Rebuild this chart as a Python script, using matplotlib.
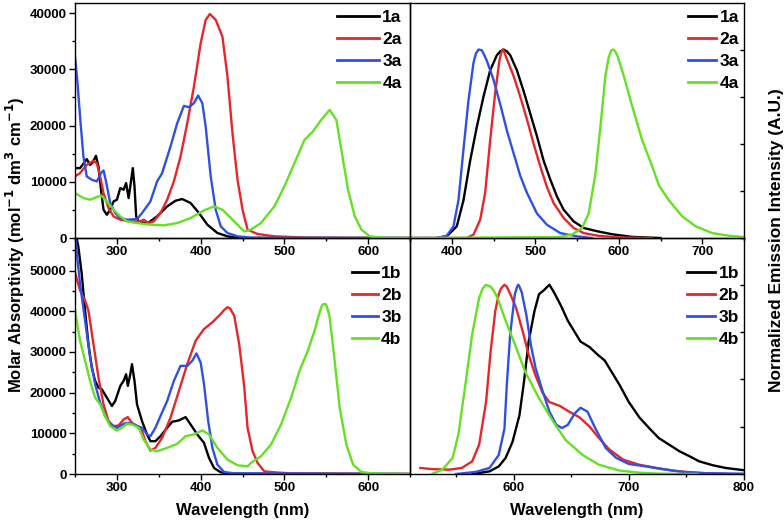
import numpy as np
import matplotlib
matplotlib.use('Agg')
import matplotlib.pyplot as plt
from matplotlib.ticker import MultipleLocator, FuncFormatter

plt.rcParams['font.family'] = ['Liberation Sans', 'DejaVu Sans']
plt.rcParams['font.weight'] = 'bold'
plt.rcParams['mathtext.default'] = 'bf'

##################################################################
# absorption, series "a"
wl_1a = [250, 256, 264, 268, 271, 275, 278, 281, 284, 288, 292, 296, 300, 304, 308, 311, 314, 316, 319,
         321, 323, 326, 336, 348, 360, 370, 378, 388, 398, 408, 420, 432, 444, 460, 650]
abs_1a = [12430, 12430, 14030, 13000, 13440, 14620, 12700, 8580, 5030, 4140, 5030, 6510, 6800, 8880, 8580,
          9770, 7100, 9180, 12430, 9180, 3850, 2960, 2550, 3850, 5620, 6630, 6930, 6220, 4440, 2370, 890,
          300, 60, 0, 0]

wl_2a = [250, 256, 264, 272, 276, 280, 284, 290, 296, 304, 316, 328, 332, 338, 344, 352, 360, 368, 376,
         384, 392, 400, 406, 411, 418, 426, 432, 438, 444, 450, 456, 468, 488, 528, 650]
abs_2a = [10950, 11540, 13020, 13730, 13320, 10950, 7990, 5330, 3850, 3260, 2960, 2960, 3260, 2660, 2960,
          4440, 6810, 10060, 14500, 20420, 26940, 34630, 38780, 39840, 38780, 35820, 28710, 18650, 10360,
          5030, 1480, 710, 300, 60, 0]

wl_3a = [250, 253, 256, 260, 264, 270, 276, 281, 284, 287, 292, 298, 304, 312, 324, 330, 340, 348, 354,
         364, 372, 380, 386, 392, 397, 402, 406, 412, 418, 424, 432, 444, 460, 650]
abs_3a = [32260, 27530, 21610, 14500, 10950, 10360, 10060, 11540, 12020, 10060, 6220, 4440, 3550, 3260,
          3370, 4440, 6510, 10060, 11540, 16280, 20420, 23500, 23270, 23980, 25340, 23980, 19830, 10950,
          5030, 2070, 890, 300, 60, 0]

wl_4a = [250, 260, 268, 276, 281, 288, 296, 304, 312, 324, 340, 356, 372, 388, 404, 416, 426, 436, 446,
         452, 460, 472, 488, 500, 512, 524, 534, 544, 554, 562, 568, 576, 584, 592, 602, 616, 650]
abs_4a = [7990, 7100, 6810, 7280, 7580, 6510, 5030, 3850, 2960, 2660, 2370, 2250, 2660, 3550, 4910, 5620,
          5030, 3550, 2070, 1150, 1480, 2660, 5620, 9180, 13320, 17460, 18940, 21020, 22790, 21020, 15690,
          8580, 3850, 1480, 300, 60, 0]

# absorption, series "b"
wl_1b = [250, 254, 258, 262, 266, 270, 274, 278, 282, 288, 294, 298, 304, 308, 311, 313, 316, 318, 321,
         324, 330, 336, 340, 346, 352, 360, 366, 374, 382, 388, 396, 404, 410, 416, 424, 436, 650]
abs_1b = [60000, 55800, 49200, 40160, 31930, 26170, 22880, 21230, 20820, 18760, 16710, 17940, 21640,
          22880, 24520, 21640, 24520, 26990, 22880, 17120, 13000, 9710, 8070, 8070, 9300, 11360, 12840,
          13170, 13990, 12180, 9710, 7650, 3950, 1480, 410, 80, 0]

wl_2b = [250, 256, 262, 266, 272, 278, 284, 290, 296, 302, 308, 313, 318, 324, 330, 334, 340, 346, 354,
         364, 374, 384, 394, 404, 414, 424, 428, 432, 435, 440, 446, 452, 456, 462, 468, 476, 488, 508, 650]
abs_2b = [49500, 45100, 42630, 40160, 31930, 23700, 17120, 13000, 11770, 11930, 13410, 13990, 12590,
          11770, 10530, 8070, 5760, 6420, 8890, 13830, 20410, 27000, 32750, 35640, 37280, 39340, 40300,
          40990, 40700, 38930, 31930, 21500, 11360, 5600, 2720, 660, 410, 160, 0]

wl_3b = [250, 253, 256, 262, 268, 274, 280, 286, 292, 300, 308, 314, 322, 330, 336, 340, 346, 352, 360,
         368, 376, 384, 390, 395, 400, 404, 409, 414, 420, 428, 440, 650]
abs_3b = [60000, 52500, 46750, 37690, 28640, 22060, 17530, 14240, 12180, 11360, 12340, 12590, 12020,
          11360, 9710, 9300, 11360, 14240, 17940, 22880, 26580, 26580, 27820, 29630, 27410, 22060, 13000,
          6420, 2300, 490, 160, 0]

wl_4b = [250, 256, 262, 268, 274, 280, 286, 292, 300, 306, 312, 318, 326, 332, 340, 348, 360, 372, 382,
         392, 402, 410, 420, 432, 444, 456, 460, 472, 484, 496, 508, 518, 528, 536, 541, 544, 546, 549,
         551, 554, 560, 566, 574, 582, 592, 604, 650]
abs_4b = [40160, 32750, 27820, 22880, 18760, 17120, 14240, 11770, 10700, 11360, 12340, 12180, 11360,
          8480, 6010, 5600, 6420, 7410, 9300, 9710, 10700, 9710, 6420, 3540, 2140, 1890, 2720, 4360, 7240,
          12180, 18760, 25350, 30290, 35220, 39000, 41000, 41700, 41810, 41000, 38520, 27820, 16300, 7240,
          2300, 490, 160, 0]

# emission, series "a" (normalized)
em_wl_1a = [350, 382, 394, 406, 414, 422, 430, 438, 446, 454, 458, 462, 466, 470, 478, 486, 494, 502, 510,
            518, 526, 534, 546, 558, 575, 592, 616, 650]
em_1a = [0, 0, 0.009, 0.062, 0.20, 0.41, 0.59, 0.75, 0.89, 0.97, 0.99, 1.0, 0.99, 0.97, 0.89, 0.78, 0.66,
         0.54, 0.41, 0.31, 0.22, 0.15, 0.088, 0.053, 0.035, 0.02, 0.006, 0]

em_wl_2a = [350, 418, 426, 434, 440, 446, 452, 457, 459, 461, 463, 466, 474, 482, 490, 498, 506, 514, 522,
            534, 546, 558, 575, 600, 640]
em_2a = [0, 0, 0.018, 0.097, 0.24, 0.52, 0.77, 0.94, 0.98, 1.0, 0.985, 0.95, 0.86, 0.75, 0.63, 0.50, 0.38,
         0.27, 0.185, 0.106, 0.053, 0.026, 0.012, 0.003, 0]

em_wl_3a = [382, 394, 402, 408, 414, 420, 426, 429, 432, 436, 439, 442, 450, 458, 466, 474, 482, 490, 502,
            514, 530, 550, 568]
em_3a = [0, 0.012, 0.062, 0.20, 0.47, 0.73, 0.93, 0.98, 1.0, 0.996, 0.97, 0.94, 0.84, 0.71, 0.57, 0.45,
         0.33, 0.24, 0.13, 0.07, 0.026, 0.009, 0]

em_wl_4a = [350, 528, 544, 556, 564, 572, 578, 584, 588, 591, 593, 596, 599, 606, 616, 628, 640, 648, 660,
            676, 692, 712, 732, 750]
em_4a = [0, 0.005, 0.018, 0.053, 0.13, 0.34, 0.59, 0.86, 0.96, 0.995, 1.0, 0.99, 0.96, 0.86, 0.70, 0.52,
         0.38, 0.28, 0.20, 0.115, 0.062, 0.026, 0.012, 0.005]

# emission, series "b" (normalized)
em_wl_1b = [564, 579, 587, 593, 599, 605, 609, 613, 618, 622, 626, 631, 635, 641, 647, 653, 658, 666, 673,
            679, 684, 692, 700, 709, 718, 726, 735, 744, 753, 761, 773, 784, 800]
em_1b = [0, 0.014, 0.04, 0.085, 0.17, 0.31, 0.49, 0.70, 0.86, 0.95, 0.97, 1.0, 0.96, 0.89, 0.81, 0.75,
         0.70, 0.67, 0.63, 0.60, 0.55, 0.47, 0.38, 0.30, 0.24, 0.19, 0.155, 0.12, 0.093, 0.067, 0.046,
         0.032, 0.02]

em_wl_2b = [519, 529, 544, 555, 564, 570, 576, 580, 584, 587, 589, 592, 594, 596, 602, 608, 613, 619, 625,
            631, 640, 648, 657, 666, 674, 683, 695, 709, 724, 738, 753, 767, 785]
em_2b = [0.032, 0.026, 0.023, 0.032, 0.067, 0.155, 0.38, 0.65, 0.86, 0.95, 0.98, 1.0, 0.99, 0.965, 0.88,
         0.75, 0.63, 0.52, 0.43, 0.38, 0.36, 0.33, 0.30, 0.25, 0.19, 0.13, 0.076, 0.049, 0.032, 0.018,
         0.009, 0.004, 0]

em_wl_3b = [550, 567, 579, 587, 592, 594, 597, 601, 603, 604, 605, 607, 611, 615, 619, 625, 631, 637, 642,
            647, 653, 658, 664, 671, 680, 689, 700, 715, 729, 747, 767, 799]
em_3b = [0, 0.011, 0.032, 0.10, 0.24, 0.47, 0.74, 0.95, 0.99, 1.0, 0.99, 0.96, 0.84, 0.68, 0.56, 0.44,
         0.33, 0.26, 0.243, 0.26, 0.32, 0.35, 0.33, 0.24, 0.137, 0.085, 0.053, 0.040, 0.026, 0.011, 0.004,
         0.002]

em_wl_4b = [529, 538, 547, 552, 558, 564, 570, 573, 576, 580, 583, 586, 593, 602, 610, 622, 634, 645, 660,
            674, 692, 709, 727, 760]
em_4b = [0, 0.023, 0.085, 0.21, 0.47, 0.74, 0.93, 0.98, 1.0, 0.99, 0.965, 0.93, 0.81, 0.67, 0.54, 0.40,
         0.28, 0.18, 0.10, 0.049, 0.018, 0.007, 0.002, 0]

colors = ['black', '#e8262a', '#2f50e6', '#66e022']

##################################################################

def style_left(ax, ymax):
    ax.set_xlim(250, 650)
    ax.set_ylim(0, ymax)
    ax.xaxis.set_major_locator(MultipleLocator(100))
    ax.xaxis.set_minor_locator(MultipleLocator(50))
    ax.yaxis.set_major_locator(MultipleLocator(10000))
    ax.yaxis.set_minor_locator(MultipleLocator(5000))
    ax.yaxis.set_major_formatter(FuncFormatter(lambda v, p: '{:d}'.format(int(round(v)))))
    ax.xaxis.set_major_formatter(FuncFormatter(lambda v, p: '' if v < 290 or v > 640 else '{:d}'.format(int(round(v)))))
    ax.tick_params(which='major', direction='out', length=4, width=1, labelsize=9.5, pad=2,
                   labelbottom=True, labelleft=True)
    ax.tick_params(which='minor', direction='out', length=2.5, width=1)


def style_right(ax, xlo, xhi, xlabels):
    ax.set_xlim(xlo, xhi)
    ax.set_ylim(0, 1.247)
    ax.xaxis.set_major_locator(MultipleLocator(100))
    ax.xaxis.set_minor_locator(MultipleLocator(50))
    ax.yaxis.set_major_locator(MultipleLocator(0.25))
    ax.yaxis.set_minor_locator(MultipleLocator(0.25))
    ax.xaxis.set_major_formatter(FuncFormatter(lambda v, p: '{:d}'.format(int(round(v))) if xlabels[0] <= v <= xlabels[1] else ''))
    ax.tick_params(axis='x', which='major', direction='out', length=4, width=1, labelsize=9.5, pad=2,
                   labelbottom=True)
    ax.tick_params(axis='x', which='minor', direction='out', length=2.5, width=1)
    ax.tick_params(axis='y', which='both', left=False, right=True, labelleft=False,
                   direction='in', length=3, width=1)


def add_legend(ax, names, hlen, anchor, spacing):
    leg = ax.legend(names, loc='upper right', bbox_to_anchor=anchor, frameon=False,
                    prop={'weight': 'bold', 'size': 12.5}, handlelength=hlen, handletextpad=0.2,
                    labelspacing=spacing, borderaxespad=0, borderpad=0)
    for line in leg.get_lines():
        line.set_linewidth(2.0)


fig = plt.figure(figsize=(7.84, 5.24), dpi=100)
w_l, w_r = 0.4273, 0.426
ax_bl = fig.add_axes([0.0957, 0.0954, w_l, 0.4504])
ax_br = fig.add_axes([0.523, 0.0954, w_r, 0.4504])
ax_tl = fig.add_axes([0.0957, 0.5458, w_l, 0.4485])
ax_tr = fig.add_axes([0.523, 0.5458, w_r, 0.4485])

for ax in [ax_tl, ax_tr, ax_bl, ax_br]:
    ax.set_facecolor('none')
    for sp in ax.spines.values():
        sp.set_linewidth(1.0)
ax_tl.set_zorder(5)
ax_tr.set_zorder(5)

lw = 1.7
for wl, val, c in zip([wl_1a, wl_2a, wl_3a, wl_4a], [abs_1a, abs_2a, abs_3a, abs_4a], colors):
    ax_tl.plot(wl, val, color=c, lw=lw)
for wl, val, c in zip([wl_1b, wl_2b, wl_3b, wl_4b], [abs_1b, abs_2b, abs_3b, abs_4b], colors):
    ax_bl.plot(wl, val, color=c, lw=lw)
for wl, val, c in zip([em_wl_1a, em_wl_2a, em_wl_3a, em_wl_4a], [em_1a, em_2a, em_3a, em_4a], colors):
    ax_tr.plot(wl, val, color=c, lw=lw)
for wl, val, c in zip([em_wl_1b, em_wl_2b, em_wl_3b, em_wl_4b], [em_1b, em_2b, em_3b, em_4b], colors):
    ax_br.plot(wl, val, color=c, lw=lw)

style_left(ax_tl, 41800)
style_left(ax_bl, 58000)
style_right(ax_tr, 350, 750, (400, 700))
style_right(ax_br, 510, 800, (600, 800))

add_legend(ax_tl, ['1a', '2a', '3a', '4a'], 2.4, (0.975, 0.972), 0.4)
add_legend(ax_tr, ['1a', '2a', '3a', '4a'], 1.6, (0.985, 0.972), 0.4)
add_legend(ax_bl, ['1b', '2b', '3b', '4b'], 1.5, (0.975, 0.88), 0.38)
add_legend(ax_br, ['1b', '2b', '3b', '4b'], 1.6, (0.985, 0.88), 0.38)

ax_bl.set_xlabel('Wavelength (nm)', fontsize=12, fontweight='bold', labelpad=6)
ax_br.set_xlabel('Wavelength (nm)', fontsize=12, fontweight='bold', labelpad=6)

fig.text(15 / 784, 1 - 245 / 524, 'Molar Absorptivity (mol$^{-1}$ dm$^{3}$ cm$^{-1}$)',
         rotation=90, ha='center', va='center', fontsize=12, fontweight='bold')
fig.text(776 / 784, 1 - 240 / 524, 'Normalized Emission Intensity (A.U.)',
         rotation=90, ha='center', va='center', fontsize=12.5, fontweight='bold')

plt.savefig('out.png', dpi=100, facecolor='white')
